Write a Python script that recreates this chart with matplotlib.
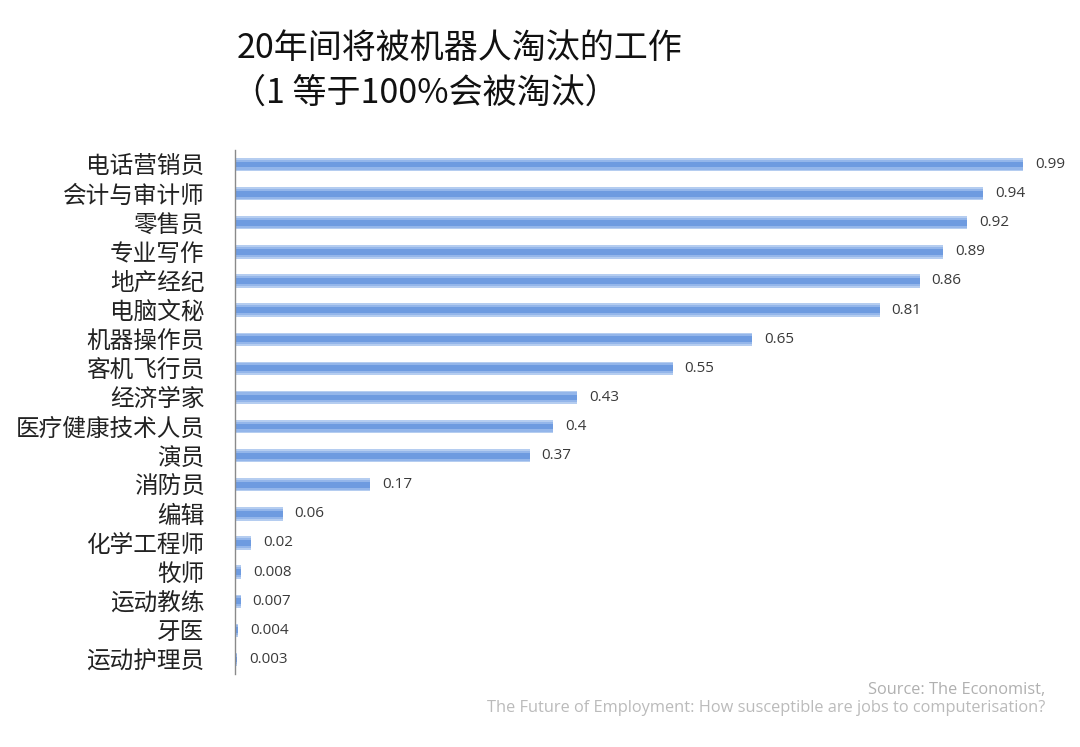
import matplotlib
matplotlib.use("Agg")
import matplotlib.pyplot as plt

plt.rcParams['font.family'] = ['Noto Sans CJK SC', 'DejaVu Sans']

jobs = ["电话营销员", "会计与审计师", "零售员", "专业写作", "地产经纪", "电脑文秘",
        "机器操作员", "客机飞行员", "经济学家", "医疗健康技术人员", "演员", "消防员",
        "编辑", "化学工程师", "牧师", "运动教练", "牙医", "运动护理员"]
probs = [0.99, 0.94, 0.92, 0.89, 0.86, 0.81, 0.65, 0.55, 0.43, 0.4, 0.37, 0.17,
         0.06, 0.02, 0.008, 0.007, 0.004, 0.003]
value_labels = ["0.99", "0.94", "0.92", "0.89", "0.86", "0.81", "0.65", "0.55", "0.43",
                "0.4", "0.37", "0.17", "0.06", "0.02", "0.008", "0.007", "0.004", "0.003"]

title_line1 = "20年间将被机器人淘汰的工作"
title_line2 = "（1 等于100%会被淘汰）"
source1 = "Source: The Economist,"
source2 = "The Future of Employment: How susceptible are jobs to computerisation?"

W, H = 1080, 747
fig = plt.figure(figsize=(W / 100, H / 100), dpi=100)
ax = fig.add_axes([235 / W, 1 - 674 / H, 796 / W, 524 / H])

ypos = list(range(len(jobs)))
ax.barh(ypos, probs, height=0.46, color="#b5cdf0", edgecolor="none")
ax.barh(ypos, probs, height=0.34, color="#94b6ea", edgecolor="none")
ax.barh(ypos, probs, height=0.20, color="#6e9be0", edgecolor="none")

ax.set_xlim(0, 1)
ax.set_ylim(len(jobs) - 0.5, -0.5)
ax.set_yticks(ypos)
ax.set_yticklabels(jobs, fontsize=17, color="#222222")
ax.tick_params(axis="y", length=0, pad=22)
ax.set_xticks([])
for s in ["top", "right", "bottom"]:
    ax.spines[s].set_visible(False)
ax.spines["left"].set_color("#8a8a8a")
ax.spines["left"].set_linewidth(1.0)

for y, v, lab in zip(ypos, probs, value_labels):
    ax.text(v + 0.015, y, lab, va="center", ha="left", fontsize=11,
            family=["Open Sans", "DejaVu Sans"], color="#3a3a3a")

fig.text(237 / W, 1 - 48 / H, title_line1, fontsize=24.5, va="center", ha="left", color="#111111")
fig.text(232 / W, 1 - 93 / H, title_line2, fontsize=24.5, va="center", ha="left", color="#111111")

fig.text(1045 / W, 1 - 690 / H, source1, fontsize=11.8, ha="right", va="center",
         family=["Open Sans", "DejaVu Sans"], color="#b0b0b0")
fig.text(1045 / W, 1 - 708 / H, source2, fontsize=11.8, ha="right", va="center",
         family=["Open Sans", "DejaVu Sans"], color="#bbbbbb")

fig.savefig("out.png", dpi=100)
